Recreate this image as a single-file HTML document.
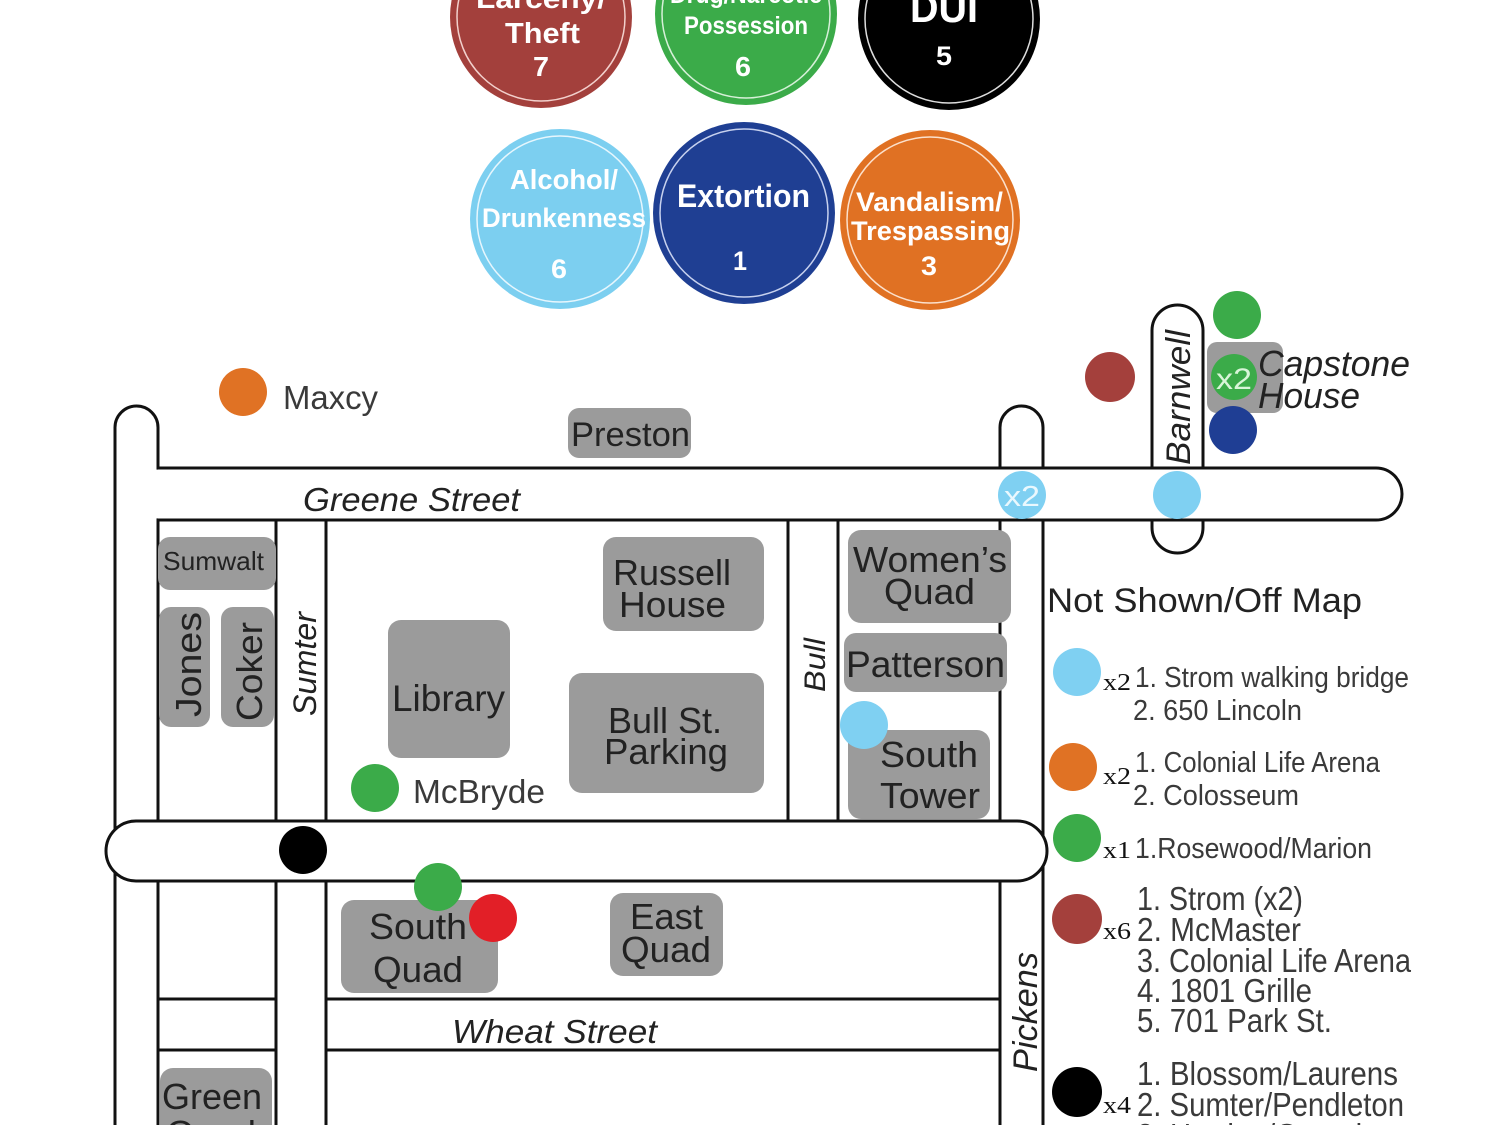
<!DOCTYPE html>
<html>
<head>
<meta charset="utf-8">
<style>
  html, body { margin: 0; padding: 0; background: #ffffff; width: 1500px; height: 1125px; overflow: hidden; }
  svg { display: block; }
  .t { font-family: "Liberation Sans", Arial, sans-serif; fill: #222222; }
  .it { font-style: italic; }
  .w { font-family: "Liberation Sans", Arial, sans-serif; font-weight: bold; fill: #ffffff; }
  .lg { font-family: "Liberation Sans", Arial, sans-serif; fill: #3a3a3a; }
  .sf { font-family: "Liberation Serif", "Times New Roman", serif; fill: #111111; }
  .bx { fill: #9b9b9b; }
</style>
</head>
<body>
<svg width="1500" height="1125" viewBox="0 0 1500 1125" xmlns="http://www.w3.org/2000/svg" overflow="hidden">
  <rect x="0" y="0" width="1500" height="1125" fill="#ffffff"/>

  <!-- ===== Top category circles ===== -->
  <g>
    <circle cx="541" cy="17" r="91" fill="#a3403c"/>
    <circle cx="541" cy="17" r="84" fill="none" stroke="#f2d0cc" stroke-width="1.5"/>
    <text class="w" x="476" y="8" font-size="28" textLength="130" lengthAdjust="spacingAndGlyphs">Larceny/</text>
    <text class="w" x="505" y="43" font-size="29" textLength="75" lengthAdjust="spacingAndGlyphs">Theft</text>
    <text class="w" x="533" y="76" font-size="28" textLength="16" lengthAdjust="spacingAndGlyphs">7</text>

    <circle cx="746" cy="14" r="91" fill="#3bab49"/>
    <circle cx="746" cy="14" r="84" fill="none" stroke="#d6f0d8" stroke-width="1.5"/>
    <text class="w" x="670" y="3" font-size="25" textLength="152" lengthAdjust="spacingAndGlyphs">Drug/Narcotic</text>
    <text class="w" x="684" y="34" font-size="25" textLength="124" lengthAdjust="spacingAndGlyphs">Possession</text>
    <text class="w" x="735" y="76" font-size="28" textLength="16" lengthAdjust="spacingAndGlyphs">6</text>

    <circle cx="949" cy="19" r="91" fill="#000000"/>
    <circle cx="949" cy="19" r="84" fill="none" stroke="#dddddd" stroke-width="1.5"/>
    <text class="w" x="910" y="22" font-size="42" textLength="68" lengthAdjust="spacingAndGlyphs">DUI</text>
    <text class="w" x="936" y="65" font-size="27" textLength="16" lengthAdjust="spacingAndGlyphs">5</text>

    <circle cx="560" cy="219" r="90" fill="#7ccff0"/>
    <circle cx="560" cy="219" r="83" fill="none" stroke="#e6f6fd" stroke-width="1.5"/>
    <text class="w" x="510" y="189" font-size="28" textLength="108" lengthAdjust="spacingAndGlyphs">Alcohol/</text>
    <text class="w" x="482" y="227" font-size="27" textLength="164" lengthAdjust="spacingAndGlyphs">Drunkenness</text>
    <text class="w" x="551" y="278" font-size="27" textLength="16" lengthAdjust="spacingAndGlyphs">6</text>

    <circle cx="744" cy="213" r="91" fill="#1f3f93"/>
    <circle cx="744" cy="213" r="84" fill="none" stroke="#c7d1ee" stroke-width="1.5"/>
    <text class="w" x="677" y="207" font-size="32" textLength="133" lengthAdjust="spacingAndGlyphs">Extortion</text>
    <text class="w" x="733" y="270" font-size="27" textLength="14" lengthAdjust="spacingAndGlyphs">1</text>

    <circle cx="930" cy="220" r="90" fill="#e07123"/>
    <circle cx="930" cy="220" r="83" fill="none" stroke="#fbe0cc" stroke-width="1.5"/>
    <text class="w" x="856" y="211" font-size="27" textLength="147" lengthAdjust="spacingAndGlyphs">Vandalism/</text>
    <text class="w" x="851" y="240" font-size="27" textLength="159" lengthAdjust="spacingAndGlyphs">Trespassing</text>
    <text class="w" x="921" y="275" font-size="27" textLength="16" lengthAdjust="spacingAndGlyphs">3</text>
  </g>

  <!-- ===== Roads ===== -->
  <g stroke="#111111" stroke-width="3" fill="#ffffff">
    <rect x="115" y="406" width="43" height="760" rx="21.5"/>
    <rect x="1000" y="406" width="43" height="760" rx="21.5"/>
    <rect x="1152" y="305" width="51" height="248" rx="25.5"/>
    <path d="M158,468 H1376 A26,26 0 0 1 1376,520 H158 Z" stroke="none"/>
    <path d="M158,468 H1376 A26,26 0 0 1 1376,520 H158" fill="none"/>
  </g>
  <rect x="154" y="469.6" width="8" height="48.8" fill="#ffffff"/>

  <g stroke="#111111" stroke-width="3" fill="none">
    <line x1="276" y1="519" x2="276" y2="1125"/>
    <line x1="326" y1="519" x2="326" y2="1125"/>
    <line x1="788" y1="519" x2="788" y2="822"/>
    <line x1="838" y1="519" x2="838" y2="822"/>
    <line x1="157" y1="999" x2="276" y2="999"/>
    <line x1="157" y1="1050" x2="276" y2="1050"/>
    <line x1="326" y1="999" x2="1000" y2="999"/>
    <line x1="326" y1="1050" x2="1000" y2="1050"/>
  </g>
  <rect x="106" y="821" width="941" height="60" rx="30" fill="#ffffff" stroke="#111111" stroke-width="3"/>

  <!-- ===== Street labels ===== -->
  <text class="t it" x="303" y="511" font-size="33" textLength="217" lengthAdjust="spacingAndGlyphs">Greene Street</text>
  <text class="t it" x="452" y="1043" font-size="33" textLength="205" lengthAdjust="spacingAndGlyphs">Wheat Street</text>
  <text class="t it" transform="translate(316,716) rotate(-90)" font-size="32" textLength="104" lengthAdjust="spacingAndGlyphs">Sumter</text>
  <text class="t it" transform="translate(825,692) rotate(-90)" font-size="30" textLength="54" lengthAdjust="spacingAndGlyphs">Bull</text>
  <text class="t it" transform="translate(1037,1072) rotate(-90)" font-size="34" textLength="120" lengthAdjust="spacingAndGlyphs">Pickens</text>
  <text class="t it" transform="translate(1190,465) rotate(-90)" font-size="34" textLength="135" lengthAdjust="spacingAndGlyphs">Barnwell</text>

  <!-- ===== Buildings ===== -->
  <rect class="bx" x="568" y="408" width="123" height="50" rx="11"/>
  <text class="t" x="571" y="446" font-size="34" textLength="119" lengthAdjust="spacingAndGlyphs">Preston</text>

  <rect class="bx" x="158" y="537" width="118" height="53" rx="12"/>
  <text class="t" x="163" y="570" font-size="26" textLength="101" lengthAdjust="spacingAndGlyphs">Sumwalt</text>

  <rect class="bx" x="159" y="607" width="51" height="120" rx="12"/>
  <text class="t" transform="translate(201,717) rotate(-90)" font-size="36" textLength="105" lengthAdjust="spacingAndGlyphs">Jones</text>

  <rect class="bx" x="221" y="607" width="53" height="120" rx="12"/>
  <text class="t" transform="translate(262,721) rotate(-90)" font-size="36" textLength="99" lengthAdjust="spacingAndGlyphs">Coker</text>

  <rect class="bx" x="388" y="620" width="122" height="138" rx="13"/>
  <text class="t" x="392" y="711" font-size="37" textLength="113" lengthAdjust="spacingAndGlyphs">Library</text>

  <rect class="bx" x="603" y="537" width="161" height="94" rx="13"/>
  <text class="t" x="613" y="585" font-size="36" textLength="118" lengthAdjust="spacingAndGlyphs">Russell</text>
  <text class="t" x="619" y="617" font-size="36" textLength="107" lengthAdjust="spacingAndGlyphs">House</text>

  <rect class="bx" x="569" y="673" width="195" height="120" rx="13"/>
  <text class="t" x="608" y="733" font-size="36" textLength="114" lengthAdjust="spacingAndGlyphs">Bull St.</text>
  <text class="t" x="604" y="764" font-size="36" textLength="124" lengthAdjust="spacingAndGlyphs">Parking</text>

  <rect class="bx" x="848" y="530" width="163" height="93" rx="13"/>
  <text class="t" x="853" y="572" font-size="36" textLength="154" lengthAdjust="spacingAndGlyphs">Women’s</text>
  <text class="t" x="884" y="604" font-size="36" textLength="91" lengthAdjust="spacingAndGlyphs">Quad</text>

  <rect class="bx" x="844" y="633" width="163" height="59" rx="12"/>
  <text class="t" x="846" y="677" font-size="37" textLength="159" lengthAdjust="spacingAndGlyphs">Patterson</text>

  <rect class="bx" x="848" y="730" width="142" height="89" rx="13"/>
  <text class="t" x="880" y="767" font-size="36" textLength="98" lengthAdjust="spacingAndGlyphs">South</text>
  <text class="t" x="880" y="808" font-size="36" textLength="100" lengthAdjust="spacingAndGlyphs">Tower</text>

  <rect class="bx" x="341" y="900" width="157" height="93" rx="13"/>
  <text class="t" x="369" y="939" font-size="36" textLength="98" lengthAdjust="spacingAndGlyphs">South</text>
  <text class="t" x="373" y="982" font-size="36" textLength="90" lengthAdjust="spacingAndGlyphs">Quad</text>

  <rect class="bx" x="610" y="893" width="113" height="83" rx="13"/>
  <text class="t" x="630" y="929" font-size="36" textLength="73" lengthAdjust="spacingAndGlyphs">East</text>
  <text class="t" x="621" y="962" font-size="36" textLength="90" lengthAdjust="spacingAndGlyphs">Quad</text>

  <rect class="bx" x="160" y="1068" width="112" height="70" rx="13"/>
  <text class="t" x="162" y="1109" font-size="36" textLength="100" lengthAdjust="spacingAndGlyphs">Green</text>
  <text class="t" x="166" y="1146" font-size="36" textLength="90" lengthAdjust="spacingAndGlyphs">Quad</text>

  <rect class="bx" x="1207" y="342" width="76" height="71" rx="10"/>

  <!-- ===== Map dots ===== -->
  <circle cx="243" cy="392" r="24" fill="#e07224"/>
  <text class="lg" x="283" y="409" font-size="33" textLength="95" lengthAdjust="spacingAndGlyphs">Maxcy</text>

  <circle cx="1110" cy="377" r="25" fill="#a4403c"/>
  <circle cx="1237" cy="315" r="24" fill="#3bab49"/>
  <circle cx="1234" cy="377" r="23" fill="#3bab49"/>
  <text x="1216" y="389" font-family="Liberation Sans, Arial, sans-serif" font-size="30" fill="#d8f5d8" textLength="36" lengthAdjust="spacingAndGlyphs">x2</text>
  <circle cx="1233" cy="430" r="24" fill="#1f3e94"/>
  <text class="t it" x="1258" y="376" font-size="36" textLength="152" lengthAdjust="spacingAndGlyphs">Capstone</text>
  <text class="t it" x="1258" y="408" font-size="36" textLength="102" lengthAdjust="spacingAndGlyphs">House</text>

  <circle cx="1177" cy="495" r="24" fill="#7fd0f2"/>
  <circle cx="1022" cy="495" r="24" fill="#7fd0f2"/>
  <text x="1004" y="506" font-family="Liberation Sans, Arial, sans-serif" font-size="29" fill="#eaf8fe" textLength="36" lengthAdjust="spacingAndGlyphs">x2</text>
  <circle cx="864" cy="725" r="24" fill="#7fd0f2"/>

  <circle cx="375" cy="788" r="24" fill="#3bab49"/>
  <text class="lg" x="413" y="803" font-size="33" textLength="132" lengthAdjust="spacingAndGlyphs">McBryde</text>

  <circle cx="303" cy="850" r="24" fill="#000000"/>
  <circle cx="438" cy="887" r="24" fill="#3bab49"/>
  <circle cx="493" cy="918" r="24" fill="#e21f27"/>

  <!-- ===== Legend ===== -->
  <text class="t" x="1047" y="612" font-size="34" textLength="315" lengthAdjust="spacingAndGlyphs">Not Shown/Off Map</text>

  <circle cx="1077" cy="672" r="24" fill="#7fd0f2"/>
  <text class="sf" x="1103" y="690" font-size="24" textLength="28" lengthAdjust="spacingAndGlyphs">x2</text>
  <text class="lg" x="1135" y="687" font-size="29" textLength="274" lengthAdjust="spacingAndGlyphs">1. Strom walking bridge</text>
  <text class="lg" x="1133" y="720" font-size="29" textLength="169" lengthAdjust="spacingAndGlyphs">2. 650 Lincoln</text>

  <circle cx="1073" cy="767" r="24" fill="#e07224"/>
  <text class="sf" x="1103" y="784" font-size="24" textLength="28" lengthAdjust="spacingAndGlyphs">x2</text>
  <text class="lg" x="1135" y="772" font-size="29" textLength="245" lengthAdjust="spacingAndGlyphs">1. Colonial Life Arena</text>
  <text class="lg" x="1133" y="805" font-size="29" textLength="166" lengthAdjust="spacingAndGlyphs">2. Colosseum</text>

  <circle cx="1077" cy="838" r="24" fill="#3bab49"/>
  <text class="sf" x="1103" y="858" font-size="24" textLength="28" lengthAdjust="spacingAndGlyphs">x1</text>
  <text class="lg" x="1135" y="858" font-size="29" textLength="237" lengthAdjust="spacingAndGlyphs">1.Rosewood/Marion</text>

  <circle cx="1077" cy="919" r="25" fill="#a4403c"/>
  <text class="sf" x="1103" y="939" font-size="24" textLength="28" lengthAdjust="spacingAndGlyphs">x6</text>
  <text class="lg" x="1137" y="910" font-size="33" textLength="166" lengthAdjust="spacingAndGlyphs">1. Strom (x2)</text>
  <text class="lg" x="1137" y="941" font-size="33" textLength="164" lengthAdjust="spacingAndGlyphs">2. McMaster</text>
  <text class="lg" x="1137" y="972" font-size="33" textLength="274" lengthAdjust="spacingAndGlyphs">3. Colonial Life Arena</text>
  <text class="lg" x="1137" y="1002" font-size="33" textLength="175" lengthAdjust="spacingAndGlyphs">4. 1801 Grille</text>
  <text class="lg" x="1137" y="1032" font-size="33" textLength="195" lengthAdjust="spacingAndGlyphs">5. 701 Park St.</text>

  <circle cx="1077" cy="1092" r="25" fill="#000000"/>
  <text class="sf" x="1103" y="1113" font-size="24" textLength="28" lengthAdjust="spacingAndGlyphs">x4</text>
  <text class="lg" x="1137" y="1085" font-size="33" textLength="261" lengthAdjust="spacingAndGlyphs">1. Blossom/Laurens</text>
  <text class="lg" x="1137" y="1116" font-size="33" textLength="267" lengthAdjust="spacingAndGlyphs">2. Sumter/Pendleton</text>
  <text class="lg" x="1137" y="1147" font-size="33" textLength="240" lengthAdjust="spacingAndGlyphs">3. Harden/Gervais</text>
</svg>
</body>
</html>
